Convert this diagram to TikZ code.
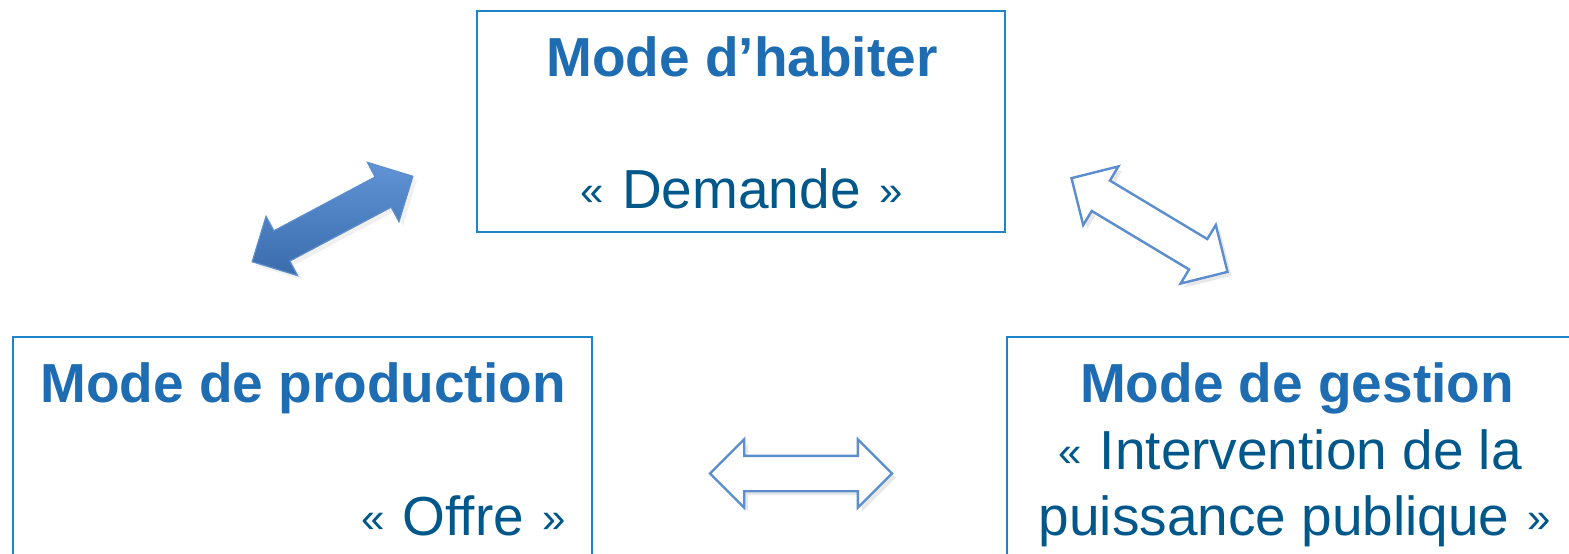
\documentclass[tikz,border=0pt]{standalone}
\usepackage{fontspec}
\setmainfont{Liberation Sans}
\usetikzlibrary{shapes.arrows,shadows}
\definecolor{boxblue}{RGB}{30,132,200}
\definecolor{titleblue}{RGB}{30,108,178}
\definecolor{textblue}{RGB}{0,88,138}
\definecolor{arrowblue}{RGB}{92,142,206}
\definecolor{arrowtop}{RGB}{96,148,214}
\definecolor{arrowbottom}{RGB}{58,108,172}
\newcommand\lguil{{\fontsize{21}{25}\selectfont\raisebox{1.5pt}{«}}\kern1.5pt}
\newcommand\rguil{\kern1.5pt{\fontsize{21}{25}\selectfont\raisebox{1.5pt}{»}}}
\begin{document}
\begin{tikzpicture}[x=0.5pt,y=0.5pt,
  box/.style={draw=boxblue, line width=1pt, fill=white, inner sep=0pt},
  title/.style={anchor=base, text=titleblue, inner sep=0pt, font=\fontsize{27.5}{33}\selectfont\bfseries},
  quote/.style={anchor=base, text=textblue, inner sep=0pt, font=\fontsize{27.5}{33}\selectfont},
  linkarrow/.style={double arrow, minimum height=91pt, minimum width=33pt,
    double arrow head extend=8.25pt, double arrow tip angle=90, inner xsep=0pt, inner ysep=8.25pt},
  hollowarrow/.style={linkarrow, draw=arrowblue, line width=1.2pt, fill=white,
    drop shadow={opacity=0.18, shadow xshift=2pt, shadow yshift=-2pt}},
  filledarrow/.style={linkarrow, draw=arrowblue, line width=0.6pt,
    top color=arrowtop, bottom color=arrowbottom,
    drop shadow={opacity=0.12, shadow xshift=2pt, shadow yshift=-2pt}}]
\path[use as bounding box, clip] (0,0) rectangle (1569,553);

% demande
\node[box, minimum width=264pt, minimum height=110.5pt] (habiter) at (741,431.5) {};
\node[title] (habiterT) at (742,476) {Mode d’habiter};
\node[quote] (demande) at (741.5,345) {\lguil{} Demande \rguil};

% offre
\node[box, minimum width=289.5pt, minimum height=120pt] (production) at (302.5,96) {};
\node[title] (productionT) at (303,151) {Mode de production};
\node[quote, anchor=base east] (offre) at (566,18) {\lguil{} Offre \rguil};

% puissance publique
\node[box, minimum width=291.5pt, minimum height=120pt] (gestion) at (1298.5,96) {};
\node[title] (gestionT) at (1297,151) {Mode de gestion};
\node[quote] (intervention) at (1290,84) {\lguil{} Intervention de la};
\node[quote] (puissance) at (1295,18) {puissance publique \rguil};

% double arrows
\node[filledarrow, rotate=28] (ph) at (332.5,334) {};
\node[hollowarrow, rotate=-31] (hg) at (1149.5,328) {};
\node[hollowarrow] (pg) at (801,79.5) {};
\end{tikzpicture}
\end{document}
